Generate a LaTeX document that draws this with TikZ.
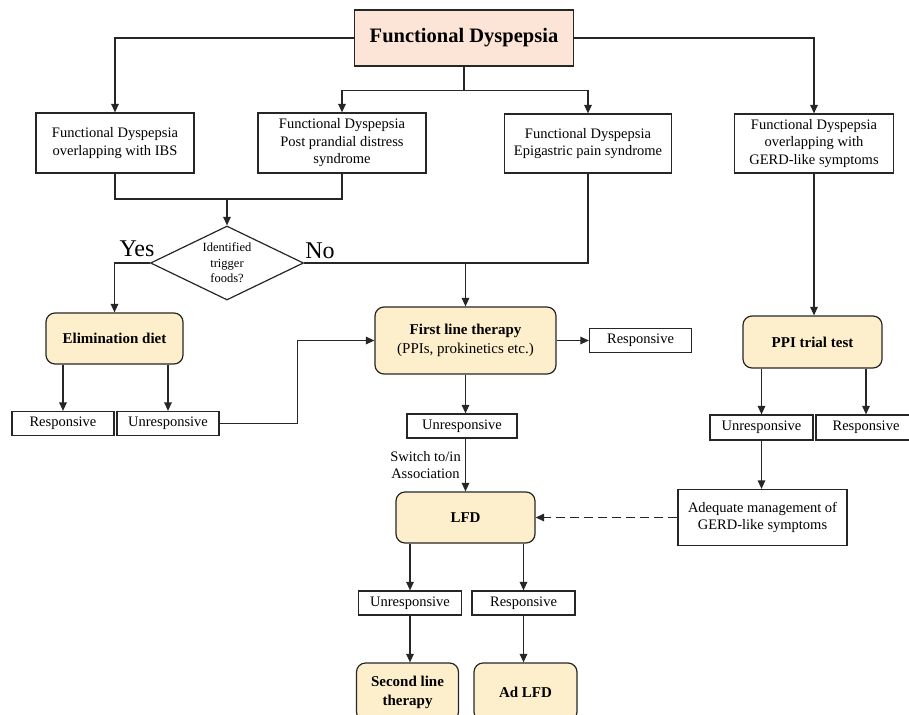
\documentclass[tikz,border=0pt]{standalone}
\usepackage{fontspec}
\setmainfont{Liberation Serif}
\usetikzlibrary{arrows.meta,shapes.geometric}
\definecolor{peach}{RGB}{252,228,214}
\definecolor{cream}{RGB}{254,239,204}
\tikzset{
  base/.style={draw=black!85,line width=1.2pt,inner sep=2pt,align=center,font=\fontsize{14.5}{17.5}\selectfont},
  plainbox/.style={base,rectangle},
  roundbox/.style={base,rectangle,rounded corners=9pt,fill=cream,font=\fontsize{15}{19}\selectfont\bfseries},
  smallbox/.style={base,rectangle,minimum width=102pt,minimum height=24pt,inner sep=0pt},
  arr/.style={draw=black!85,line width=1.2pt,-{Triangle[length=8.5pt,width=7.5pt]}},
  ln/.style={draw=black!85,line width=1.2pt},
}
\begin{document}
\begin{tikzpicture}[x=1pt,y=-1pt]
\useasboundingbox (0,0) rectangle (909,714);
\clip (0,0) rectangle (909,714);
\fill[white] (0,0) rectangle (909,714);

% nodes
\node[plainbox,fill=peach,minimum width=219pt,minimum height=56pt,font=\fontsize{20.5}{24}\selectfont\bfseries] (top) at (464,38) {Functional Dyspepsia};
\node[plainbox,minimum width=158pt,minimum height=60pt] (b1) at (115,143) {Functional Dyspepsia\\overlapping with IBS};
\node[plainbox,minimum width=168pt,minimum height=60pt] (b2) at (342,143) {Functional Dyspepsia\\Post prandial distress\\syndrome};
\node[plainbox,minimum width=167pt,minimum height=59pt] (b3) at (588,143.5) {Functional Dyspepsia\\Epigastric pain syndrome};
\node[plainbox,minimum width=159pt,minimum height=59pt] (b4) at (814,143.5) {Functional Dyspepsia\\overlapping with\\GERD-like symptoms};

\node[base,diamond,aspect=2,inner sep=0pt,minimum width=153pt,minimum height=74pt,font=\fontsize{12.5}{15.5}\selectfont] (dia) at (227,263) {Identified\\trigger\\foods?};
\node[font=\fontsize{24}{26}\selectfont] (yes) at (137,249) {Yes};
\node[font=\fontsize{24}{26}\selectfont] (no) at (320,251) {No};

\node[roundbox,minimum width=137pt,minimum height=51pt] (elim) at (114.5,338.5) {Elimination diet};
\node[smallbox] (r1) at (63,423.5) {Responsive};
\node[smallbox] (u1) at (168,423.5) {Unresponsive};

\node[roundbox,minimum width=181pt,minimum height=67pt] (flt) at (465.5,340.5) {First line therapy\\\normalfont\fontsize{15}{19}\selectfont(PPIs, prokinetics etc.)};
\node[smallbox] (r2) at (640.5,340.5) {Responsive};
\node[smallbox,minimum width=110pt] (u2) at (462,426) {Unresponsive};
\node[align=center,font=\fontsize{14.5}{17.5}\selectfont] (sw) at (425.5,465) {Switch to/in\\Association};

\node[roundbox,minimum width=139pt,minimum height=51pt] (lfd) at (465.5,517.5) {LFD};
\node[smallbox,minimum width=103pt] (u3) at (410,603) {Unresponsive};
\node[smallbox,minimum width=103pt] (r3) at (523.5,603) {Responsive};
\node[roundbox,minimum width=102pt,minimum height=58pt] (slt) at (407.5,692) {Second line\\therapy};
\node[roundbox,minimum width=103pt,minimum height=58pt] (ad) at (525.5,692) {Ad LFD};

\node[roundbox,minimum width=139pt,minimum height=52pt] (ppi) at (812.5,342) {PPI trial test};
\node[smallbox,minimum width=103pt,minimum height=25pt] (u4) at (761.5,427.5) {Unresponsive};
\node[smallbox,minimum width=100pt,minimum height=25pt] (r4) at (866,427.5) {Responsive};
\node[plainbox,minimum width=169pt,minimum height=56pt] (adq) at (762.5,517.5) {Adequate management of\\GERD-like symptoms};

% connectors
\draw[arr] (top.west) -| (b1.north);
\draw[arr] (top.east) -| (b4.north);
\draw[ln] (top.south) -- ++(0,24) coordinate (j1);
\draw[arr] (j1) -| (b2.north);
\draw[arr] (j1) -| (b3.north);

\coordinate (j2) at (227,199);
\draw[ln] (b1.south) |- (j2) -| (b2.south);
\draw[arr] (j2) -- (dia.north);

\draw[arr] (dia.west) -| (elim.north);
\coordinate (j3) at (465.5,263);
\draw[ln] (dia.east) -- (j3);
\draw[ln] (b3.south) |- (j3);
\draw[arr] (j3) -- (flt.north);

\draw[arr] (elim.south -| r1.north) -- (r1.north);
\draw[arr] (elim.south -| u1.north) -- (u1.north);
\draw[arr] (u1.east) -- ++(78,0) |- (flt.west);
\draw[arr] (flt.east) -- (r2.west);
\draw[arr] (flt.south) -- (flt.south |- u2.north);
\draw[arr] (u2.south -| lfd.north) -- (lfd.north);

\draw[arr] (lfd.south -| u3.north) -- (u3.north);
\draw[arr] (lfd.south -| r3.north) -- (r3.north);
\draw[arr] (u3.south) -- (u3.south |- slt.north);
\draw[arr] (r3.south) -- (r3.south |- ad.north);

\draw[arr] (b4.south) -- (b4.south |- ppi.north);
\draw[arr] (ppi.south -| u4.north) -- (u4.north);
\draw[arr] (ppi.south -| r4.north) -- (r4.north);
\draw[arr] (u4.south) -- (u4.south |- adq.north);
\draw[arr,dash pattern=on 9pt off 5pt] (adq.west) -- (lfd.east);
\end{tikzpicture}
\end{document}
